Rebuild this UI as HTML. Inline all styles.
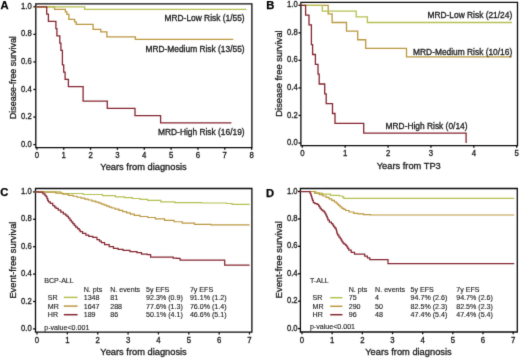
<!DOCTYPE html>
<html><head><meta charset="utf-8"><title>Figure</title><style>
html,body{margin:0;padding:0;background:#fff;}
body{width:520px;height:358px;overflow:hidden;}
svg{display:block;}
text{font-family:"Liberation Sans",sans-serif;fill:#1a1a1a;stroke:#1a1a1a;stroke-width:0.3px;}
.pl{font-weight:bold;font-size:11.2px;fill:#000;stroke:#000;stroke-width:0.25px;}
.ax{fill:none;stroke:#0a0a0a;stroke-width:1.3;}
.yt{font-size:8.1px;}
.xt{font-size:8.2px;}
.lab{font-size:9.3px;}
.cl{font-size:8.4px;}
.lg{font-size:7.1px;stroke-width:0.12px;}
</style></head>
<body><svg width="520" height="358" viewBox="0 0 520 358">
<defs><filter id="bl" x="0" y="0" width="520" height="358" filterUnits="userSpaceOnUse" color-interpolation-filters="sRGB"><feConvolveMatrix order="3" kernelMatrix="0.0183 0.1353 0.0183 0.1353 1 0.1353 0.0183 0.1353 0.0183" edgeMode="duplicate"/></filter></defs>
<g filter="url(#bl)"><rect width="520" height="358" fill="#fff"/>
<text x="0.5" y="9" class="pl">A</text>
<path d="M35.8,3.9 H251.9 V147.6 H35.8 Z" class="ax"/>
<path d="M33.4,144.6 H35.8" class="ax"/>
<text transform="translate(31.7,146.7) scale(0.95,1.1)" class="yt" text-anchor="end">0.0</text>
<path d="M33.4,117.04 H35.8" class="ax"/>
<text transform="translate(31.7,119.14) scale(0.95,1.1)" class="yt" text-anchor="end">0.2</text>
<path d="M33.4,89.48 H35.8" class="ax"/>
<text transform="translate(31.7,91.58) scale(0.95,1.1)" class="yt" text-anchor="end">0.4</text>
<path d="M33.4,61.92 H35.8" class="ax"/>
<text transform="translate(31.7,64.02) scale(0.95,1.1)" class="yt" text-anchor="end">0.6</text>
<path d="M33.4,34.36 H35.8" class="ax"/>
<text transform="translate(31.7,36.46) scale(0.95,1.1)" class="yt" text-anchor="end">0.8</text>
<path d="M33.4,6.8 H35.8" class="ax"/>
<text transform="translate(31.7,8.9) scale(0.95,1.1)" class="yt" text-anchor="end">1.0</text>
<path d="M36.9,147.6 V149.8" class="ax"/>
<text transform="translate(36.9,158) scale(0.95,1.1)" class="xt" text-anchor="middle">0</text>
<path d="M63.74,147.6 V149.8" class="ax"/>
<text transform="translate(63.74,158) scale(0.95,1.1)" class="xt" text-anchor="middle">1</text>
<path d="M90.58,147.6 V149.8" class="ax"/>
<text transform="translate(90.58,158) scale(0.95,1.1)" class="xt" text-anchor="middle">2</text>
<path d="M117.42,147.6 V149.8" class="ax"/>
<text transform="translate(117.42,158) scale(0.95,1.1)" class="xt" text-anchor="middle">3</text>
<path d="M144.26,147.6 V149.8" class="ax"/>
<text transform="translate(144.26,158) scale(0.95,1.1)" class="xt" text-anchor="middle">4</text>
<path d="M171.1,147.6 V149.8" class="ax"/>
<text transform="translate(171.1,158) scale(0.95,1.1)" class="xt" text-anchor="middle">5</text>
<path d="M197.94,147.6 V149.8" class="ax"/>
<text transform="translate(197.94,158) scale(0.95,1.1)" class="xt" text-anchor="middle">6</text>
<path d="M224.78,147.6 V149.8" class="ax"/>
<text transform="translate(224.78,158) scale(0.95,1.1)" class="xt" text-anchor="middle">7</text>
<path d="M251.62,147.6 V149.8" class="ax"/>
<text transform="translate(251.62,158) scale(0.95,1.1)" class="xt" text-anchor="middle">8</text>
<text x="100.3" y="170.4" class="lab">Years from diagnosis</text>
<text transform="translate(16,77.6) rotate(-90)" text-anchor="middle" class="lab" style="font-size:8.9px">Disease-free survival</text>
<path d="M35.8,6.8 H54.5 V9.31 H65.4 V11.81 H66.9 V14.32 H68.9 V19.33 H74.6 V21.83 H76.2 V24.34 H93.1 V29.35 H100.8 V31.85 H106.9 V36.87 H135.4 V39.37 H233.3" fill="none" stroke="#ba983f" stroke-width="1.3" stroke-linejoin="miter" stroke-linecap="butt"/>
<path d="M35.8,6.8 H84.6 V9.31 H246.5" fill="none" stroke="#b6c052" stroke-width="1.3" stroke-linejoin="miter" stroke-linecap="butt"/>
<path d="M35.8,6.8 H46.7 V14.05 H48.4 V21.31 H55.9 V28.56 H56.9 V35.81 H59.8 V43.06 H60.9 V50.32 H62.4 V64.82 H63.7 V72.07 H65.1 V79.33 H68.4 V86.58 H83.1 V101.08 H107.3 V108.34 H135 V115.59 H160.6 V122.84 H231.4" fill="none" stroke="#842630" stroke-width="1.3" stroke-linejoin="miter" stroke-linecap="butt"/>
<text x="244.6" y="20.9" class="cl" text-anchor="end">MRD-Low Risk (1/55)</text>
<text x="244.6" y="51.5" class="cl" text-anchor="end">MRD-Medium Risk (13/55)</text>
<text x="244.6" y="135.0" class="cl" text-anchor="end">MRD-High Risk (16/19)</text>
<text x="266.2" y="9.1" class="pl">B</text>
<path d="M300.9,2.4 H517.5 V145.6 H300.9 Z" class="ax"/>
<path d="M298.5,143 H300.9" class="ax"/>
<text transform="translate(297.7,145.1) scale(0.95,1.1)" class="yt" text-anchor="end">0.0</text>
<path d="M298.5,115.46 H300.9" class="ax"/>
<text transform="translate(297.7,117.56) scale(0.95,1.1)" class="yt" text-anchor="end">0.2</text>
<path d="M298.5,87.92 H300.9" class="ax"/>
<text transform="translate(297.7,90.02) scale(0.95,1.1)" class="yt" text-anchor="end">0.4</text>
<path d="M298.5,60.38 H300.9" class="ax"/>
<text transform="translate(297.7,62.48) scale(0.95,1.1)" class="yt" text-anchor="end">0.6</text>
<path d="M298.5,32.84 H300.9" class="ax"/>
<text transform="translate(297.7,34.94) scale(0.95,1.1)" class="yt" text-anchor="end">0.8</text>
<path d="M298.5,5.3 H300.9" class="ax"/>
<text transform="translate(297.7,7.4) scale(0.95,1.1)" class="yt" text-anchor="end">1.0</text>
<path d="M302.3,145.6 V147.8" class="ax"/>
<text transform="translate(302.3,156) scale(0.95,1.1)" class="xt" text-anchor="middle">0</text>
<path d="M345.18,145.6 V147.8" class="ax"/>
<text transform="translate(345.18,156) scale(0.95,1.1)" class="xt" text-anchor="middle">1</text>
<path d="M388.06,145.6 V147.8" class="ax"/>
<text transform="translate(388.06,156) scale(0.95,1.1)" class="xt" text-anchor="middle">2</text>
<path d="M430.94,145.6 V147.8" class="ax"/>
<text transform="translate(430.94,156) scale(0.95,1.1)" class="xt" text-anchor="middle">3</text>
<path d="M473.82,145.6 V147.8" class="ax"/>
<text transform="translate(473.82,156) scale(0.95,1.1)" class="xt" text-anchor="middle">4</text>
<path d="M516.7,145.6 V147.8" class="ax"/>
<text transform="translate(516.7,156) scale(0.95,1.1)" class="xt" text-anchor="middle">5</text>
<text x="376.7" y="168.5" class="lab">Years from TP3</text>
<text transform="translate(282.4,73.5) rotate(-90)" text-anchor="middle" class="lab" style="font-size:9.3px">Disease free survival</text>
<path d="M300.9,5.3 H328.2 V13.91 H332.1 V22.51 H346.5 V31.12 H357.7 V39.73 H365.7 V48.33 H406.5 V56.94 H511.9" fill="none" stroke="#ba983f" stroke-width="1.3" stroke-linejoin="miter" stroke-linecap="butt"/>
<path d="M300.9,5.3 H322.3 V11.04 H356.2 V16.78 H367.4 V22.51 H511.9" fill="none" stroke="#b6c052" stroke-width="1.3" stroke-linejoin="miter" stroke-linecap="butt"/>
<path d="M300.9,5.3 H305.6 V15.14 H309 V24.97 H311.4 V44.64 H312.6 V54.48 H315.4 V64.31 H318 V74.15 H319.2 V83.99 H324.7 V93.82 H326.2 V103.66 H332.5 V113.49 H335 V123.33 H363.7 V133.16 H466.1 V143 H466.1" fill="none" stroke="#842630" stroke-width="1.3" stroke-linejoin="miter" stroke-linecap="butt"/>
<text x="512.2" y="18.1" class="cl" text-anchor="end">MRD-Low Risk (21/24)</text>
<text x="512.2" y="54.6" class="cl" text-anchor="end">MRD-Medium Risk (10/16)</text>
<text x="467.5" y="129.3" class="cl" text-anchor="end">MRD-High Risk (0/14)</text>
<text x="0.2" y="195.9" class="pl">C</text>
<path d="M35.5,188.5 H251.9 V332.2 H35.5 Z" class="ax"/>
<path d="M33.1,328.9 H35.5" class="ax"/>
<text transform="translate(31.7,331) scale(0.95,1.1)" class="yt" text-anchor="end">0.0</text>
<path d="M33.1,301.5 H35.5" class="ax"/>
<text transform="translate(31.7,303.6) scale(0.95,1.1)" class="yt" text-anchor="end">0.2</text>
<path d="M33.1,274.1 H35.5" class="ax"/>
<text transform="translate(31.7,276.2) scale(0.95,1.1)" class="yt" text-anchor="end">0.4</text>
<path d="M33.1,246.7 H35.5" class="ax"/>
<text transform="translate(31.7,248.8) scale(0.95,1.1)" class="yt" text-anchor="end">0.6</text>
<path d="M33.1,219.3 H35.5" class="ax"/>
<text transform="translate(31.7,221.4) scale(0.95,1.1)" class="yt" text-anchor="end">0.8</text>
<path d="M33.1,191.9 H35.5" class="ax"/>
<text transform="translate(31.7,194) scale(0.95,1.1)" class="yt" text-anchor="end">1.0</text>
<path d="M37,332.2 V334.4" class="ax"/>
<text transform="translate(37,342.9) scale(0.95,1.1)" class="xt" text-anchor="middle">0</text>
<path d="M67.36,332.2 V334.4" class="ax"/>
<text transform="translate(67.36,342.9) scale(0.95,1.1)" class="xt" text-anchor="middle">1</text>
<path d="M97.72,332.2 V334.4" class="ax"/>
<text transform="translate(97.72,342.9) scale(0.95,1.1)" class="xt" text-anchor="middle">2</text>
<path d="M128.08,332.2 V334.4" class="ax"/>
<text transform="translate(128.08,342.9) scale(0.95,1.1)" class="xt" text-anchor="middle">3</text>
<path d="M158.44,332.2 V334.4" class="ax"/>
<text transform="translate(158.44,342.9) scale(0.95,1.1)" class="xt" text-anchor="middle">4</text>
<path d="M188.8,332.2 V334.4" class="ax"/>
<text transform="translate(188.8,342.9) scale(0.95,1.1)" class="xt" text-anchor="middle">5</text>
<path d="M219.16,332.2 V334.4" class="ax"/>
<text transform="translate(219.16,342.9) scale(0.95,1.1)" class="xt" text-anchor="middle">6</text>
<path d="M249.52,332.2 V334.4" class="ax"/>
<text transform="translate(249.52,342.9) scale(0.95,1.1)" class="xt" text-anchor="middle">7</text>
<text x="100.3" y="355.4" class="lab">Years from diagnosis</text>
<text transform="translate(16.2,260.1) rotate(-90)" text-anchor="middle" class="lab" style="font-size:9.3px">Event-free survival</text>
<path d="M35.5,191.9 L50,191.9 H60.65 V193.5 H71.3 H83.15 V194.5 H95 H102.5 V195.7 H110 H115.4 V196.8 H120.8 H124.65 V197.65 H132.35 V198.5 H136.2 H140.02 V199.4 H147.68 V200.3 H151.5 H160.75 V201.9 H170 H174.9 V202.7 H179.8 H201.85 V203 H223.9 H226.35 V203.5 H228.8 H232.1 V204.3 H235.4 L249.6,204.3" fill="none" stroke="#b6c052" stroke-width="1.2" stroke-linejoin="miter" stroke-linecap="butt"/>
<path d="M35.5,191.9 H43.75 V192.1 H52 H55.85 V193.1 H59.7 H62.6 V194.2 H68.4 V195.3 H71.3 H73.25 V196.27 H77.15 V197.23 H81.05 V198.2 H83 H84.75 V199.1 H88.25 V200 H90 H91.92 V201.1 H95.78 V202.2 H97.7 H98.98 V203.2 H101.55 V204.2 H104.12 V205.2 H105.4 H106.68 V206.13 H109.25 V207.07 H111.82 V208 H113.1 H115.02 V209.15 H118.88 V210.3 H120.8 H122.72 V211.6 H126.58 V212.9 H128.5 H130.43 V214.15 H134.27 V215.4 H136.2 H140 V216.5 H143.8 H147.65 V217.5 H151.5 H155.35 V218.8 H159.2 H164.6 V220.4 H170 H174.07 V221.75 H182.23 V223.1 H186.3 H194.5 V224.3 H202.7 H210.85 V224.8 H219 L249.6,224.8" fill="none" stroke="#ba983f" stroke-width="1.2" stroke-linejoin="miter" stroke-linecap="butt"/>
<path d="M35.5,191.9 H38.5 V192.1 H41.5 H42.95 V193.8 H44.4 H44.95 V195.25 H46.05 V196.7 H46.6 H46.98 V198.55 H47.73 V200.4 H48.1 H48.45 V201.8 H48.8 H50.25 V203.3 H51.7 H52.8 V205.7 H53.9 H54.62 V207 H56.07 V208.3 H56.8 H58.25 V210.1 H59.7 H60.8 V212 H61.9 H63.35 V213.9 H64.8 H65.53 V215.1 H66.97 V216.3 H67.7 H68.42 V218.15 H69.88 V220 H70.6 H71.32 V221.8 H72.78 V223.6 H73.5 H74.22 V225.3 H75.68 V227 H76.4 H77.5 V228.7 H78.6 H79.15 V230.15 H80.25 V231.6 H80.8 H82.6 V233.3 H84.4 H85.85 V235.2 H87.3 H88.75 V236.4 H90.2 H92.8 V237.3 H95.4 H96.95 V239.6 H98.5 H99.45 V241.15 H101.35 V242.7 H102.3 H104.6 V244.7 H106.9 H109.2 V246.5 H111.5 H113.45 V248.4 H115.4 H118.1 V249.3 H120.8 H123.1 V250.4 H125.4 H130 V251.5 H134.6 H136.9 V252.7 H139.2 H141.5 V254.2 H143.8 H147.2 V254.5 H150.6 L150.6,257 L172.8,257 H173.15 V258.1 H173.5 H176.6 V258.3 H179.7 H180.1 V260.2 H180.5 L224.7,260.2 L224.7,265.2 L249.6,265.2" fill="none" stroke="#842630" stroke-width="1.25" stroke-linejoin="miter" stroke-linecap="butt"/>
<text x="265.9" y="196.8" class="pl">D</text>
<path d="M300.4,188.5 H517.3 V332 H300.4 Z" class="ax"/>
<path d="M298,328.6 H300.4" class="ax"/>
<text transform="translate(297.6,330.7) scale(0.95,1.1)" class="yt" text-anchor="end">0.0</text>
<path d="M298,301.18 H300.4" class="ax"/>
<text transform="translate(297.6,303.28) scale(0.95,1.1)" class="yt" text-anchor="end">0.2</text>
<path d="M298,273.76 H300.4" class="ax"/>
<text transform="translate(297.6,275.86) scale(0.95,1.1)" class="yt" text-anchor="end">0.4</text>
<path d="M298,246.34 H300.4" class="ax"/>
<text transform="translate(297.6,248.44) scale(0.95,1.1)" class="yt" text-anchor="end">0.6</text>
<path d="M298,218.92 H300.4" class="ax"/>
<text transform="translate(297.6,221.02) scale(0.95,1.1)" class="yt" text-anchor="end">0.8</text>
<path d="M298,191.5 H300.4" class="ax"/>
<text transform="translate(297.6,193.6) scale(0.95,1.1)" class="yt" text-anchor="end">1.0</text>
<path d="M302,332 V334.2" class="ax"/>
<text transform="translate(302,342.6) scale(0.95,1.1)" class="xt" text-anchor="middle">0</text>
<path d="M332.17,332 V334.2" class="ax"/>
<text transform="translate(332.17,342.6) scale(0.95,1.1)" class="xt" text-anchor="middle">1</text>
<path d="M362.34,332 V334.2" class="ax"/>
<text transform="translate(362.34,342.6) scale(0.95,1.1)" class="xt" text-anchor="middle">2</text>
<path d="M392.51,332 V334.2" class="ax"/>
<text transform="translate(392.51,342.6) scale(0.95,1.1)" class="xt" text-anchor="middle">3</text>
<path d="M422.68,332 V334.2" class="ax"/>
<text transform="translate(422.68,342.6) scale(0.95,1.1)" class="xt" text-anchor="middle">4</text>
<path d="M452.85,332 V334.2" class="ax"/>
<text transform="translate(452.85,342.6) scale(0.95,1.1)" class="xt" text-anchor="middle">5</text>
<path d="M483.02,332 V334.2" class="ax"/>
<text transform="translate(483.02,342.6) scale(0.95,1.1)" class="xt" text-anchor="middle">6</text>
<path d="M513.19,332 V334.2" class="ax"/>
<text transform="translate(513.19,342.6) scale(0.95,1.1)" class="xt" text-anchor="middle">7</text>
<text x="365.2" y="354.9" class="lab">Years from diagnosis</text>
<text transform="translate(282,259.7) rotate(-90)" text-anchor="middle" class="lab" style="font-size:9.3px">Event-free survival</text>
<path d="M300.4,191.5 L311.6,191.5 H315.95 V193.1 H320.3 H322.5 V194.1 H324.7 H330.5 V195.3 H336.3 H339.25 V196 H342.2 H342.73 V197.15 H343.77 V198.3 H344.3 H429.25 V198.4 H514.2" fill="none" stroke="#b6c052" stroke-width="1.2" stroke-linejoin="miter" stroke-linecap="butt"/>
<path d="M300.4,191.5 L311.6,191.5 H314.5 V193.1 H317.4 H319.22 V194.55 H322.88 V196 H324.7 H326.15 V197.45 H329.05 V198.9 H330.5 H331.77 V200.35 H334.33 V201.8 H335.6 H336.2 V203 H337.4 V204.2 H338.6 V205.4 H339.2 H340.12 V206.85 H341.97 V208.3 H342.9 H343.8 V209.4 H345.6 V210.5 H346.5 H349.05 V212 H351.6 H353.8 V213.4 H356 H358 V213.9 H360 H363.5 V214.6 H367 H370.5 V215 H374 L514.2,215" fill="none" stroke="#ba983f" stroke-width="1.2" stroke-linejoin="miter" stroke-linecap="butt"/>
<path d="M300.4,191.5 L309.4,191.5 H309.95 V193.1 H310.5 H310.77 V194.9 H311.33 V196.7 H311.6 H311.9 V198.55 H312.5 V200.4 H312.8 H313.3 V202.5 H313.8 H314.9 V203.7 H316 H317.1 V204.3 H318.2 H318.55 V205.6 H319.25 V206.9 H319.6 H320.15 V208.35 H321.25 V209.8 H321.8 H322.9 V211 H324 H324.35 V212.2 H325.05 V213.4 H325.4 H325.77 V214.85 H326.52 V216.3 H326.9 H327.25 V218.15 H327.95 V220 H328.3 H329.4 V222.2 H330.5 H331.4 V223.6 H332.3 H332.77 V225.05 H333.73 V226.5 H334.2 H334.73 V227.75 H335.77 V229 H336.3 H336.43 V230.6 H336.68 V232.2 H336.8 H337.1 V233.7 H337.7 V235.2 H338 H338.9 V237 H339.8 H340.25 V238.5 H341.15 V240 H341.6 H342.05 V241.5 H342.95 V243 H343.4 H344.15 V244.2 H345.65 V245.4 H346.4 H346.85 V246.9 H347.75 V248.4 H348.2 H348.8 V250.2 H349.4 H351.2 V252.4 H353 H354.5 V254 H356 L363.2,254 H364.7 V256.2 H366.2 H367.4 V257.9 H369.8 V259.6 H371 L388,259.6 L388,263.5 L514.2,263.5" fill="none" stroke="#842630" stroke-width="1.25" stroke-linejoin="miter" stroke-linecap="butt"/>
<text x="44.2" y="282.7" class="lg">BCP-ALL</text>
<text x="83.7" y="291.6" class="lg">N. pts</text>
<text x="110.2" y="291.6" class="lg">N. events</text>
<text x="146.1" y="291.6" class="lg">5y EFS</text>
<text x="189.9" y="291.6" class="lg">7y EFS</text>
<text x="47.8" y="299.9" class="lg">SR</text>
<path d="M63.8,297.4 H77.6" stroke="#b6c052" stroke-width="1.5" fill="none"/>
<text x="83.7" y="299.9" class="lg">1348</text>
<text x="110.2" y="299.9" class="lg">81</text>
<text x="146.1" y="299.9" class="lg">92.3% (0.9)</text>
<text x="189.9" y="299.9" class="lg">91.1% (1.2)</text>
<text x="47.8" y="308.6" class="lg">MR</text>
<path d="M63.8,306.1 H77.6" stroke="#ba983f" stroke-width="1.5" fill="none"/>
<text x="83.7" y="308.6" class="lg">1647</text>
<text x="110.2" y="308.6" class="lg">288</text>
<text x="146.1" y="308.6" class="lg">77.6% (1.3)</text>
<text x="189.9" y="308.6" class="lg">76.0% (1.4)</text>
<text x="47.8" y="317.2" class="lg">HR</text>
<path d="M63.8,314.7 H77.6" stroke="#842630" stroke-width="1.5" fill="none"/>
<text x="83.7" y="317.2" class="lg">189</text>
<text x="110.2" y="317.2" class="lg">86</text>
<text x="146.1" y="317.2" class="lg">50.1% (4.1)</text>
<text x="189.9" y="317.2" class="lg">46.6% (5.1)</text>
<text x="44.2" y="329.8" class="lg">p-value&lt;0.001</text>
<text x="309.9" y="282.7" class="lg">T-ALL</text>
<text x="348.7" y="291.9" class="lg">N. pts</text>
<text x="375.1" y="291.9" class="lg">N. events</text>
<text x="410.6" y="291.9" class="lg">5y EFS</text>
<text x="456.2" y="291.9" class="lg">7y EFS</text>
<text x="312.6" y="300.2" class="lg">SR</text>
<path d="M330.2,297.7 H342.4" stroke="#b6c052" stroke-width="1.5" fill="none"/>
<text x="348.7" y="300.2" class="lg">75</text>
<text x="375.1" y="300.2" class="lg">4</text>
<text x="410.6" y="300.2" class="lg">94.7% (2.6)</text>
<text x="456.2" y="300.2" class="lg">94.7% (2.6)</text>
<text x="312.6" y="308.8" class="lg">MR</text>
<path d="M330.2,306.3 H342.4" stroke="#ba983f" stroke-width="1.5" fill="none"/>
<text x="348.7" y="308.8" class="lg">290</text>
<text x="375.1" y="308.8" class="lg">50</text>
<text x="410.6" y="308.8" class="lg">82.5% (2.3)</text>
<text x="456.2" y="308.8" class="lg">82.5% (2.3)</text>
<text x="312.6" y="317.2" class="lg">HR</text>
<path d="M330.2,314.7 H342.4" stroke="#842630" stroke-width="1.5" fill="none"/>
<text x="348.7" y="317.2" class="lg">96</text>
<text x="375.1" y="317.2" class="lg">48</text>
<text x="410.6" y="317.2" class="lg">47.4% (5.4)</text>
<text x="456.2" y="317.2" class="lg">47.4% (5.4)</text>
<text x="309.9" y="329.3" class="lg">p-value&lt;0.001</text>
</g></svg></body></html>
